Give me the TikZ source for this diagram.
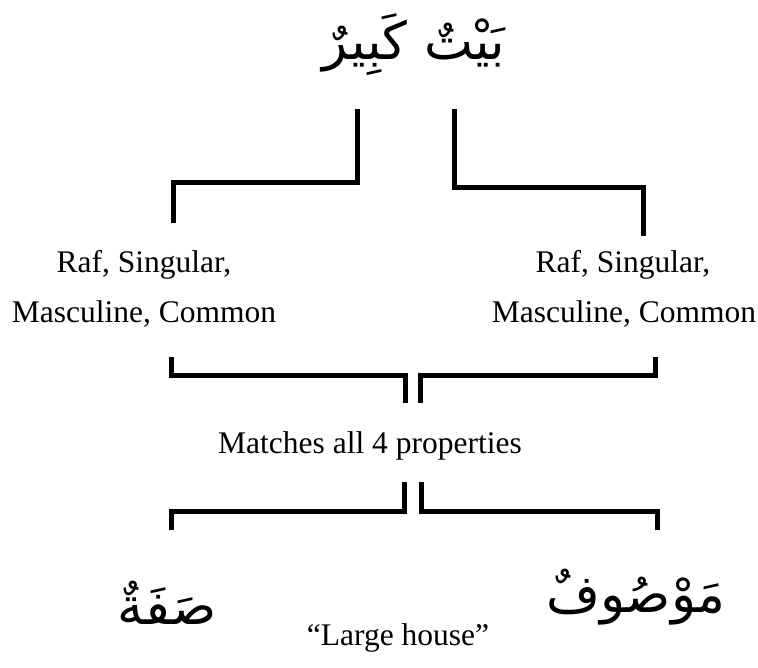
\documentclass[tikz,border=0pt]{standalone}
\usepackage{fontspec}
\setmainfont{Liberation Serif}
\newfontfamily\arabicfont[Script=Arabic]{DejaVu Sans}
\TeXXeTstate=1
\begin{document}
\begin{tikzpicture}[x=1pt, y=-1pt, every node/.style={inner sep=0pt},
		lbl/.style={font=\fontsize{31.5}{37}\selectfont, anchor=base},
		arab/.style={font=\arabicfont\fontsize{52}{60}\selectfont},
		bracket/.style={line width=5pt}]
			\useasboundingbox (0,0) rectangle (758,667);
			\node[arab] (phrase) at (414,45) {\beginR بَيْتٌ كَبِيرٌ\endR};
			\node[lbl] (rafL) at (144,272) {Raf, Singular,};
			\node[lbl] (mascL) at (144,322) {Masculine, Common};
			\node[lbl] (rafR) at (623,272) {Raf, Singular,};
			\node[lbl] (mascR) at (624,322) {Masculine, Common};
			\node[lbl] (match) at (370,453) {Matches all 4 properties};
			\node[arab] (sifa) at (167,603) {\beginR صَفَةٌ\endR};
			\node[arab] (mawsuf) at (636,597) {\beginR مَوْصُوفٌ\endR};
			\node[lbl] (house) at (398,645) {``Large house''};
			% bracket ends
			\coordinate (t1) at (357,109); \coordinate (t1e) at (173,223);
			\coordinate (t2) at (454,109); \coordinate (t2e) at (643,236);
			\coordinate (m1) at (405,403); \coordinate (m1e) at (171,357);
			\coordinate (m2) at (420,403); \coordinate (m2e) at (655,357);
			\coordinate (b1) at (404,482); \coordinate (b1e) at (171,530);
			\coordinate (b2) at (421,482); \coordinate (b2e) at (657,530);
			\draw[bracket] (t1) -- ++(0,73) -| (t1e);
			\draw[bracket] (t2) -- ++(0,78) -| (t2e);
			\draw[bracket] (m1) -- ++(0,-28) -| (m1e);
			\draw[bracket] (m2) -- ++(0,-28) -| (m2e);
			\draw[bracket] (b1) -- ++(0,29) -| (b1e);
			\draw[bracket] (b2) -- ++(0,29) -| (b2e);
\end{tikzpicture}
\end{document}
